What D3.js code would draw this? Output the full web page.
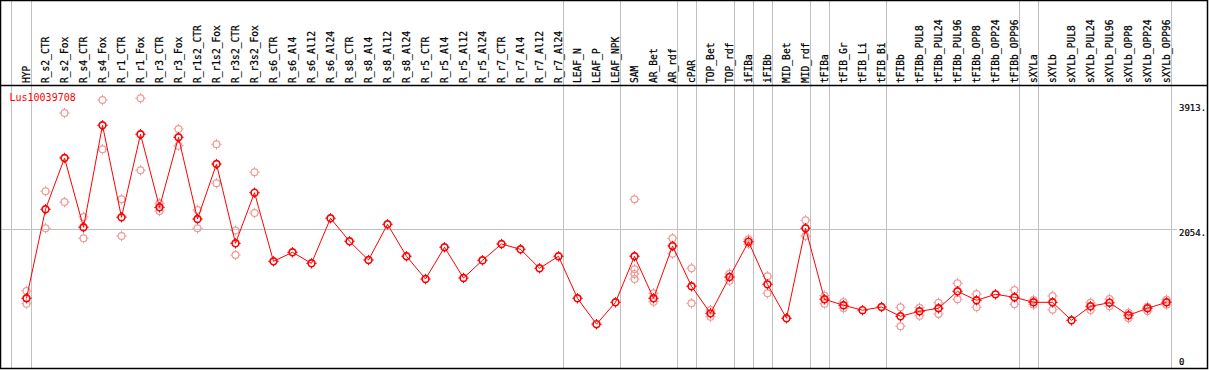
<!DOCTYPE html>
<html>
<head>
<meta charset="utf-8">
<script src="https://cdn.jsdelivr.net/npm/d3@7"></script>
<style>
  body { margin: 0; background: #fff; }
  svg { display: block; }
  text { font-family: "DejaVu Sans Mono", monospace; }
</style>
</head>
<body>
<svg id="chart" width="1209" height="370"></svg>
<script>
const geneName = "Lus10039708";

const samples = ["HYP","R_s2_CTR","R_s2_Fox","R_s4_CTR","R_s4_Fox","R_r1_CTR","R_r1_Fox","R_r3_CTR","R_r3_Fox",
  "R_r1s2_CTR","R_r1s2_Fox","R_r3s2_CTR","R_r3s2_Fox","R_s6_CTR","R_s6_Al4","R_s6_Al12","R_s6_Al24",
  "R_s8_CTR","R_s8_Al4","R_s8_Al12","R_s8_Al24","R_r5_CTR","R_r5_Al4","R_r5_Al12","R_r5_Al24",
  "R_r7_CTR","R_r7_Al4","R_r7_Al12","R_r7_Al24","LEAF_N","LEAF_P","LEAF_NPK","SAM","AR_Bet","AR_rdf",
  "cPAR","TOP_Bet","TOP_rdf","iFIBa","iFIBb","MID_Bet","MID_rdf","tFIBa","tFIB_Gr","tFIB_Li","tFIB_Bi",
  "tFIBb","tFIBb_PUL8","tFIBb_PUL24","tFIBb_PUL96","tFIBb_OPP8","tFIBb_OPP24","tFIBb_OPP96",
  "sXYLa","sXYLb","sXYLb_PUL8","sXYLb_PUL24","sXYLb_PUL96","sXYLb_OPP8","sXYLb_OPP24","sXYLb_OPP96"];

const meanValues = [1016,2342,3106,2074,3593,2223,3459,2371,3414,
  2197,3016,1835,2589,1567,1701,1537,2208,
  1865,1586,2118,1642,1303,1776,1318,1582,
  1825,1746,1463,1642,1016,630,956,1642,1016,1795,
  1195,792,1333,1859,1224,718,2059,1001,912,839,886,
  748,822,867,1120,986,1075,1031,
  956,956,688,897,950,763,867,956];

const replicateValues = [[1125,935],[2610,2059],[3776,2450],[2227,1910],[3970,3235],[2491,1944],[3995,2923],[2431,2316],[3538,3289],
  [2331,2059],[3310,2729],[2026,1661],[2893,2287],[],[],[],[],
  [],[],[],[],[],[],[],[],
  [],[],[],[],[],[],[],[2491,1448,1378,1303],[1090,965],[1910,1680],
  [1463,941],[842,742],[1382,1278],[1895,1825],[1344,1090],[],[2178,1944],[1055,935],[961,867],[],[],
  [882,599],[876,757],[950,782],[1239,1001],[1080,882],[],[1140,927],
  [991,921],[1050,846],[],[950,842],[1006,897],[801,718],[891,827],[995,921]];

// grey separators are drawn just right of these samples (plus one before the first)
const separatorsAfter = ["HYP","R_r7_Al24","LEAF_NPK","AR_rdf","cPAR","TOP_rdf","iFIBa","iFIBb",
  "MID_rdf","tFIBa","tFIB_Bi","tFIBb_OPP96","sXYLa","sXYLb_OPP96"];

const yTicks = [0, 2054, 3913];
const yTickLabels = ["0", "2054.", "3913."];
const yGrid = [2054];

const buildVis = (svg_name) => {
  let chart = d3.select(svg_name);
  let headerBottom = 85.5;
  let frameRight = 1207.5;
  let frameBottom = 368.5;

  let x = d3.scalePoint()
    .domain(samples)
    .range([26.5, 1166.5]);
  let y = d3.scaleLinear()
    .domain([0, 3913])
    .range([366.5, 103.8]);

  // grid
  let grid = chart.append("g").attr("stroke", "#c0c0c0").attr("stroke-width", 1);
  let sepX = [x("HYP") - 15.5].concat(separatorsAfter.map(s => x(s) + 4));
  grid.selectAll("line.v")
    .data(sepX)
    .enter().append("line")
      .attr("class", "v")
      .attr("x1", d => Math.round(d) + 0.5)
      .attr("x2", d => Math.round(d) + 0.5)
      .attr("y1", 0)
      .attr("y2", frameBottom);
  grid.selectAll("line.h")
    .data(yGrid)
    .enter().append("line")
      .attr("class", "h")
      .attr("x1", 0)
      .attr("x2", 1177)
      .attr("y1", d => Math.round(y(d)) + 0.5)
      .attr("y2", d => Math.round(y(d)) + 0.5);

  // frame + header line
  chart.append("rect")
    .attr("x", 0.5).attr("y", 0.5)
    .attr("width", frameRight - 0.5).attr("height", frameBottom - 0.5)
    .attr("fill", "none").attr("stroke", "#000").attr("stroke-width", 1.5);
  chart.append("line")
    .attr("x1", 0).attr("x2", frameRight)
    .attr("y1", headerBottom).attr("y2", headerBottom)
    .attr("stroke", "#000").attr("stroke-width", 1.5);

  // column labels
  chart.append("g").selectAll("text")
    .data(samples)
    .enter().append("text")
      .attr("transform", d => "translate(" + (x(d) + 3.5) + ",83) rotate(-90)")
      .attr("font-size", "9.6px")
      .attr("fill", "#000")
      .attr("stroke", "#000")
      .attr("stroke-width", 0.25)
      .text(d => d);

  // right axis labels
  chart.append("g").selectAll("text")
    .data(yTicks)
    .enter().append("text")
      .attr("x", 1179)
      .attr("y", d => Math.min(y(d) + 7.5, 365))
      .attr("font-size", "9px")
      .attr("fill", "#000")
      .attr("stroke", "#000")
      .attr("stroke-width", 0.2)
      .text((d, i) => yTickLabels[i]);

  chart.append("text")
    .attr("x", 9.5).attr("y", 100.5)
    .attr("font-size", "10px")
    .attr("fill", "#ff0000")
    .text(geneName);

  const marker = (g, color, sw) => {
    g.append("circle").attr("r", 3.4).attr("fill", "none").attr("stroke", color).attr("stroke-width", sw);
    [[0, -1], [0, 1], [-1, 0], [1, 0]].forEach(([dx, dy]) => {
      g.append("line")
        .attr("x1", dx * 3.4).attr("y1", dy * 3.4)
        .attr("x2", dx * 5.2).attr("y2", dy * 5.2)
        .attr("stroke", color).attr("stroke-width", 1);
    });
  };

  // replicates
  let reps = [];
  for (let i = 0; i < samples.length; i++) {
    replicateValues[i].forEach(v => reps.push({s: samples[i], v: v}));
  }
  chart.append("g").selectAll("g")
    .data(reps)
    .enter().append("g")
      .attr("transform", d => "translate(" + x(d.s) + "," + y(d.v) + ")")
      .each(function () { marker(d3.select(this), "#f09a9a", 1.2); });

  // mean line
  let line = d3.line()
    .x((d, i) => x(samples[i]))
    .y(d => y(d));
  chart.append("path")
    .datum(meanValues)
    .attr("d", line)
    .attr("fill", "none")
    .attr("stroke", "#ff0000")
    .attr("stroke-width", 1);

  chart.append("g").selectAll("g")
    .data(meanValues)
    .enter().append("g")
      .attr("transform", (d, i) => "translate(" + x(samples[i]) + "," + y(d) + ")")
      .each(function () { marker(d3.select(this), "#ff0000", 1.6); });
}

buildVis("#chart");
</script>
</body>
</html>
